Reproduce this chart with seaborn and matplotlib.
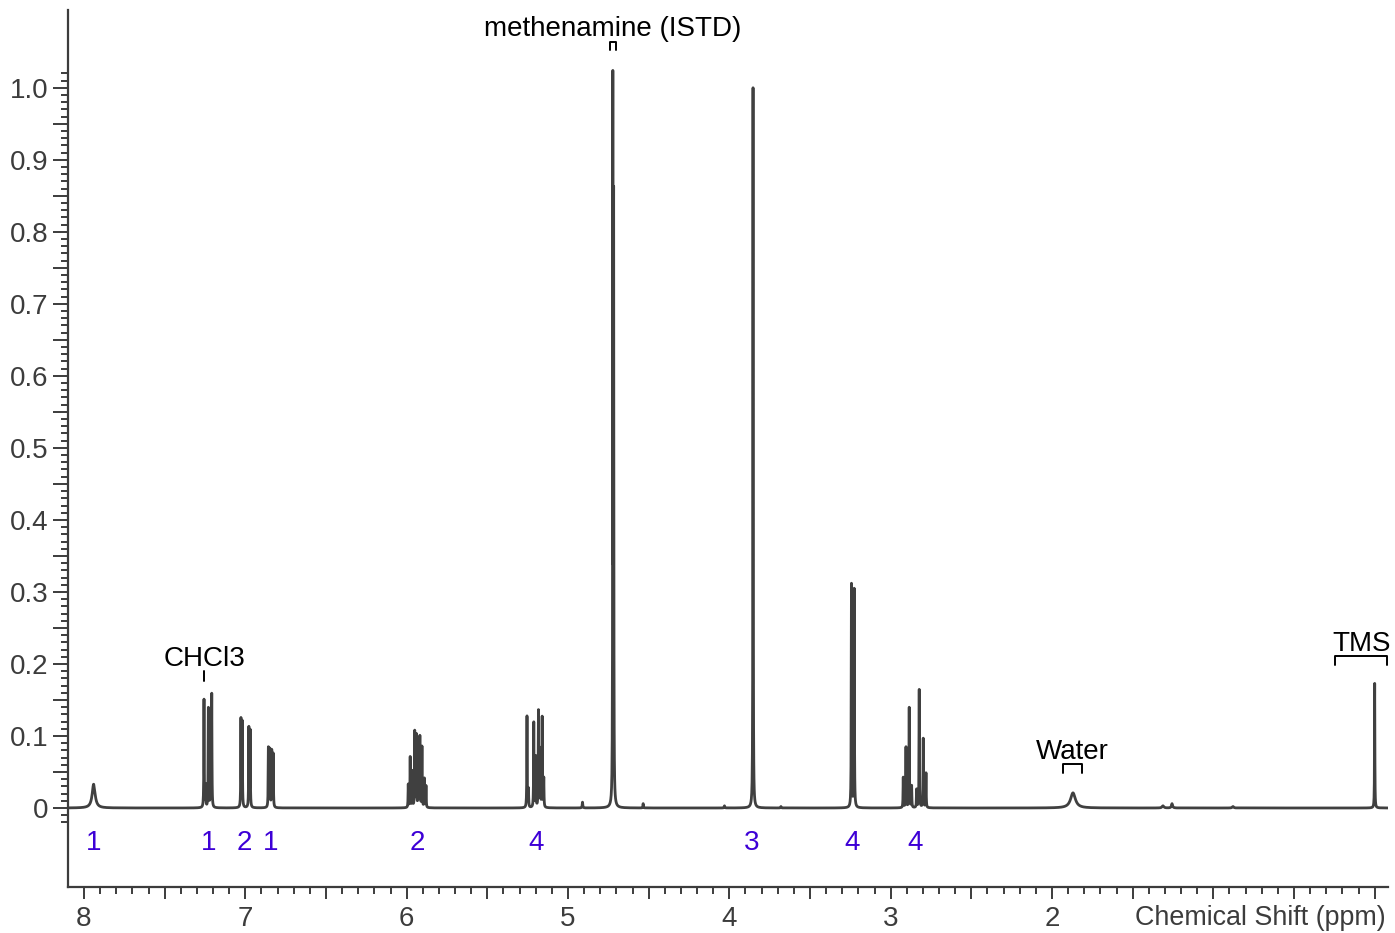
import numpy as np
import pandas as pd
import matplotlib
matplotlib.use("Agg")
import matplotlib.pyplot as plt
import seaborn as sns
from matplotlib.ticker import FixedLocator, FixedFormatter

# ---------------- data ----------------
peak_ppm = [7.940,
            7.256, 7.246, 7.229, 7.218, 7.208,
            7.027, 7.019, 6.978, 6.970,
            6.857, 6.847, 6.836, 6.827,
            5.990, 5.978, 5.965, 5.950, 5.940, 5.928, 5.918, 5.905, 5.890, 5.880,
            5.254, 5.245, 5.212, 5.200, 5.183, 5.172, 5.160, 5.150,
            4.910, 4.722, 4.717, 4.534, 4.030,
            3.853, 3.680,
            3.243, 3.226,
            2.922, 2.905, 2.885, 2.870, 2.839, 2.823, 2.798, 2.781,
            1.870, 1.312, 1.256, 0.878,
            0.000]
peak_height = [0.033,
               0.150, 0.030, 0.138, 0.030, 0.158,
               0.122, 0.118, 0.110, 0.106,
               0.083, 0.080, 0.078, 0.074,
               0.032, 0.070, 0.050, 0.105, 0.100, 0.060, 0.098, 0.084, 0.040, 0.030,
               0.127, 0.025, 0.118, 0.070, 0.134, 0.080, 0.125, 0.040,
               0.008, 0.980, 0.810, 0.006, 0.003,
               1.000, 0.002,
               0.310, 0.303,
               0.042, 0.084, 0.139, 0.030, 0.025, 0.164, 0.096, 0.048,
               0.021, 0.003, 0.006, 0.002,
               0.173]
peak_hwhm = [0.011,
             0.0014, 0.0014, 0.0014, 0.0014, 0.0014,
             0.0014, 0.0014, 0.0014, 0.0014,
             0.0014, 0.0014, 0.0014, 0.0014,
             0.0014, 0.0014, 0.0014, 0.0014, 0.0014, 0.0014, 0.0014, 0.0014, 0.0014, 0.0014,
             0.0014, 0.0014, 0.0014, 0.0014, 0.0014, 0.0014, 0.0014, 0.0014,
             0.0020, 0.0012, 0.0012, 0.0015, 0.0020,
             0.0012, 0.0020,
             0.0014, 0.0014,
             0.0014, 0.0014, 0.0014, 0.0014, 0.0014, 0.0014, 0.0014, 0.0014,
             0.018, 0.006, 0.004, 0.005,
             0.0012]

integral_ppm = [7.94, 7.225, 7.005, 6.845, 5.935, 5.198, 3.862, 3.24, 2.85]
integral_text = ["1", "1", "2", "1", "2", "4", "3", "4", "4"]
integral_y = -0.048

annot_text = ["methenamine (ISTD)", "CHCl3", "Water", "TMS"]
annot_left = [4.74, 7.256, 1.932, 0.245]
annot_right = [4.70, 7.256, 1.814, -0.077]
annot_top = [1.064, 0.190, 0.061, 0.211]

x_major_labels = {8: "8", 7: "7", 6: "6", 5: "5", 4: "4", 3: "3", 2: "2"}

# ---------------- spectrum from peak list ----------------
grid = np.arange(-0.09, 8.11, 0.0004)
ppm = np.union1d(grid, np.array(peak_ppm))
inten = np.zeros_like(ppm)
for c, h, w in zip(peak_ppm, peak_height, peak_hwhm):
    inten += h / (1.0 + ((ppm - c) / w) ** 2)
df = pd.DataFrame({"ppm": ppm, "intensity": inten})

# ---------------- figure ----------------
sns.set_theme(style="ticks")
plt.rcParams["font.family"] = ["Liberation Sans", "DejaVu Sans"]
axis_col = "#3c3c3c"
fs = 20

fig = plt.figure(figsize=(13.95, 9.33), dpi=100)
ax = fig.add_axes([68 / 1395, (933 - 887) / 933, 1320 / 1395, 877 / 933])

sns.lineplot(data=df, x="ppm", y="intensity", ax=ax, color="#404040",
             linewidth=2.0, estimator=None, sort=False)

ax.set_xlim(8.099, -0.0825)
ax.set_ylim(-0.1097, 1.108)

for s in ["top", "right"]:
    ax.spines[s].set_visible(False)
for s in ["left", "bottom"]:
    ax.spines[s].set_color(axis_col)
    ax.spines[s].set_linewidth(1.6)

# x ticks
xmaj = [i * 0.5 for i in range(0, 17)]
xlab = [x_major_labels.get(int(v), "") if float(v).is_integer() else "" for v in xmaj]
ax.xaxis.set_major_locator(FixedLocator(xmaj))
ax.xaxis.set_major_formatter(FixedFormatter(xlab))
ax.xaxis.set_minor_locator(FixedLocator([i * 0.1 for i in range(0, 82)]))
ax.tick_params(axis="x", which="major", length=8.5, width=1.4, color=axis_col,
               labelsize=fs, labelcolor=axis_col, pad=5)
ax.tick_params(axis="x", which="minor", length=4.8, width=1.4, color=axis_col)

# y ticks
ymaj = [round(i * 0.05, 2) for i in range(0, 21)]
ylab = []
for i, v in enumerate(ymaj):
    if i == 0:
        ylab.append("0")
    elif i % 2 == 0:
        ylab.append(f"{v:.1f}")
    else:
        ylab.append("")
ax.yaxis.set_major_locator(FixedLocator(ymaj))
ax.yaxis.set_major_formatter(FixedFormatter(ylab))
ax.yaxis.set_minor_locator(FixedLocator([round(i * 0.01, 2) for i in range(-2, 103)]))
ax.tick_params(axis="y", which="major", length=11, width=1.4, color=axis_col,
               labelsize=fs, labelcolor=axis_col, pad=3)
ax.tick_params(axis="y", which="minor", length=5.2, width=1.4, color=axis_col)

ax.set_xlabel("")
ax.set_ylabel("")
ax.text(0.998, -0.0353, "Chemical Shift (ppm)", transform=ax.transAxes,
        ha="right", va="center", fontsize=19.4, color=axis_col)

# integration values
for x, t in zip(integral_ppm, integral_text):
    ax.text(x, integral_y, t, ha="center", va="center", fontsize=fs, color="#3d00d6")

# annotations with brackets
leg = 0.012
for t, xl, xr, yt in zip(annot_text, annot_left, annot_right, annot_top):
    if xl == xr:
        ax.plot([xl, xl], [yt, yt - 0.014], color="black", lw=1.4)
    else:
        ax.plot([xl, xl, xr, xr], [yt - leg, yt, yt, yt - leg], color="black", lw=1.4)
    ax.annotate(t, xy=((xl + xr) / 2, yt), xytext=(0, 9), textcoords="offset points",
                ha="center", va="center", fontsize=fs, color="black")

fig.savefig("out.png", dpi=100)
